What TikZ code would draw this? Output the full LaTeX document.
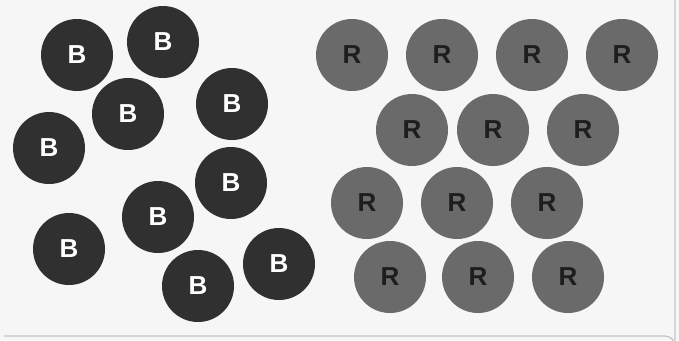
\documentclass[tikz,border=0pt]{standalone}
\usepackage{fontspec}
\setsansfont{Liberation Sans}
\definecolor{bdark}{HTML}{303030}
\definecolor{rgray}{HTML}{6A6A6A}
\definecolor{rtext}{HTML}{1E1E1E}
\definecolor{paper}{HTML}{F6F6F6}
\definecolor{edge}{HTML}{C4C4C4}
\begin{document}
\begin{tikzpicture}[x=1pt,y=-1pt,
    bead/.style={circle,inner sep=0pt,minimum size=72pt,
      font=\sffamily\bfseries\fontsize{26}{26}\selectfont},
    bbead/.style={bead,fill=bdark,text=white},
    rbead/.style={bead,fill=rgray,text=rtext}]
  \fill[paper] (0,0) rectangle (679,340);
  \useasboundingbox (0,0) rectangle (679,340);
  \draw[edge,line width=1.2pt] (4,336) -- (665,336) arc (270:360:10) -- (675,0);

  % blue-ish (dark) beads
  \node[bbead] (b1) at (77,55) {B};
  \node[bbead] (b2) at (163,42) {B};
  \node[bbead] (b3) at (128,114) {B};
  \node[bbead] (b4) at (232,104) {B};
  \node[bbead] (b5) at (49,148) {B};
  \node[bbead] (b6) at (231,183) {B};
  \node[bbead] (b7) at (158,217) {B};
  \node[bbead] (b8) at (69,249) {B};
  \node[bbead] (b9) at (198,286) {B};
  \node[bbead] (b10) at (279,264) {B};

  % gray beads
  \node[rbead] (r1) at (352,55) {R};
  \node[rbead] (r2) at (442,55) {R};
  \node[rbead] (r3) at (532,55) {R};
  \node[rbead] (r4) at (622,55) {R};
  \node[rbead] (r5) at (412,130) {R};
  \node[rbead] (r6) at (493,130) {R};
  \node[rbead] (r7) at (583,130) {R};
  \node[rbead] (r8) at (367,203) {R};
  \node[rbead] (r9) at (457,203) {R};
  \node[rbead] (r10) at (547,203) {R};
  \node[rbead] (r11) at (390,277) {R};
  \node[rbead] (r12) at (478,277) {R};
  \node[rbead] (r13) at (568,277) {R};
\end{tikzpicture}
\end{document}
